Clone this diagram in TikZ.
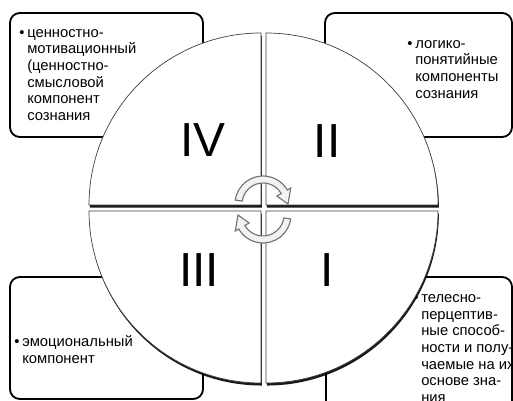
\documentclass[tikz,border=0pt]{standalone}
\usepackage{fontspec}
\setmainfont{Liberation Sans}
\usetikzlibrary{shadows}

\begin{document}
\begin{tikzpicture}[x=0.025cm, y=0.025cm]
\tikzstyle{infobox}=[draw=black, line width=1.3pt, fill=white, rounded corners=7pt]
\tikzstyle{quarter}=[fill=white, draw=black!75, line width=0.5pt, drop shadow={shadow xshift=0.6pt, shadow yshift=-1.8pt, opacity=0.9, fill=black}]
\tikzstyle{numeral}=[font=\fontsize{34}{34}\selectfont, inner sep=0pt]
\tikzstyle{itemtext}=[font=\fontsize{10.5}{11.8}\selectfont, align=left, anchor=north west, inner sep=0pt]
\tikzstyle{turn}=[fill=gray!10, draw=black!55, line width=0.8pt]

\useasboundingbox (0,0) rectangle (513,401);

% boxes
\draw[infobox] (10,264) rectangle (203,388);
\draw[infobox] (325,264) rectangle (512,388);
\draw[infobox] (10,2) rectangle (203,124);
\draw[infobox] (326,-30) rectangle (512,124);

\node[itemtext] (tIV) at (27,372) {\llap{\textbullet\hspace{2pt}}ценностно-\\мотивационный\\(ценностно-\\смысловой\\компонент\\сознания};
\node[itemtext] (tII) at (415,361) {\llap{\textbullet\hspace{2pt}}логико-\\понятийные\\компоненты\\сознания};
\node[itemtext] (tIII) at (22,65.5) {\llap{\textbullet\hspace{2pt}}эмоциональный\\компонент};
\node[itemtext] (tI) at (421,106.5) {\llap{\textbullet\hspace{2pt}}телесно-\\перцептив-\\ные способ-\\ности и полу-\\чаемые на их\\основе зна-\\ния};

% quarters of the circle
\filldraw[quarter] (261,196) -- (89,196) arc[start angle=180, end angle=90, radius=172] -- cycle;
\filldraw[quarter] (266,196) -- (266,368) arc[start angle=90, end angle=0, radius=172] -- cycle;
\filldraw[quarter] (261,190) -- (89,190) arc[start angle=180, end angle=270, radius=172] -- cycle;
\filldraw[quarter] (266,190) -- (438,190) arc[start angle=0, end angle=-90, radius=172] -- cycle;

\node[numeral] (nIV) at (203,261) {IV};
\node[numeral] (nII) at (327,259.5) {II};
\node[numeral] (nIII) at (199,131) {III};
\node[numeral] (nI) at (327.5,130.5) {I};

% turning arrows
\filldraw[turn, shift={(263,197)}] (172:28) arc[start angle=172, end angle=30, radius=28] -- (30:32) -- (0:25) -- (30:16) -- (30:21) arc[start angle=30, end angle=172, radius=21] -- cycle;
\filldraw[turn, shift={(263,186)}] (-8:28) arc[start angle=-8, end angle=-150, radius=28] -- (-150:32) -- (-180:25) -- (-150:16) -- (-150:21) arc[start angle=-150, end angle=-8, radius=21] -- cycle;
\end{tikzpicture}
\end{document}
